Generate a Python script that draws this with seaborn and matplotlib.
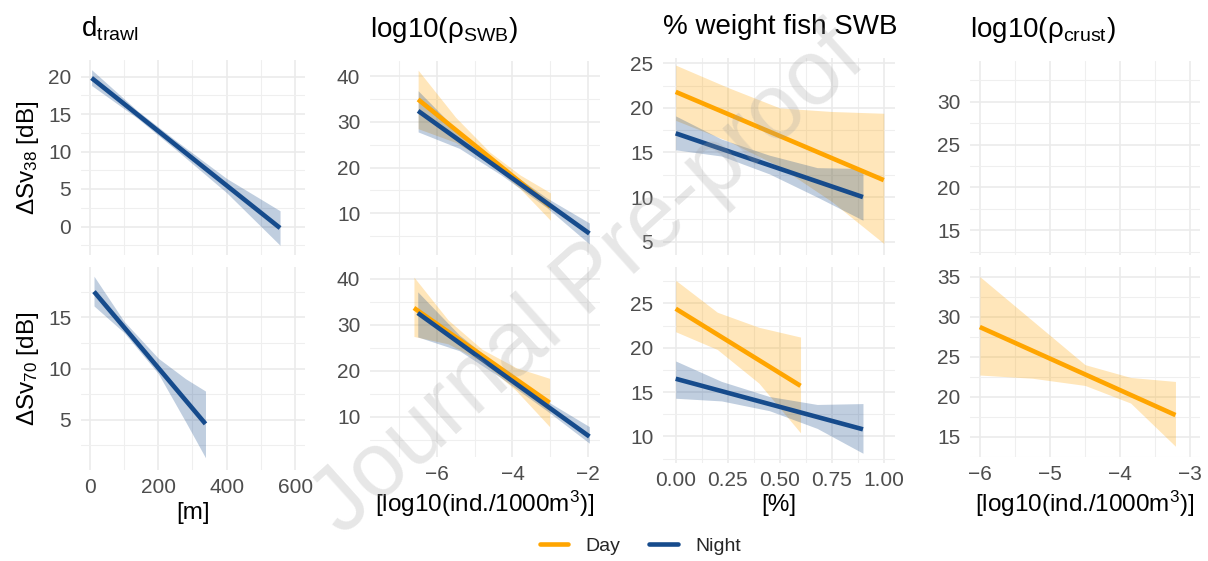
import matplotlib
matplotlib.use("Agg")
import matplotlib.pyplot as plt
from matplotlib.ticker import MultipleLocator, FormatStrFormatter
from matplotlib.lines import Line2D
import seaborn as sns
import pandas as pd

DAY_COLOR = "#FFA500"
NIGHT_COLOR = "#164B8C"

# --- values: fit endpoints + confidence band ---
# d_trawl vs dSv38 (night only)
dtr38_night_x = [5, 140, 250, 400, 556]
dtr38_night_fit = [19.8, -0.2]
dtr38_night_lo = [18.8, 14.4, 10.3, 4.5, -2.5]
dtr38_night_hi = [20.9, 15.4, 11.5, 6.4, 2.1]

# d_trawl vs dSv70 (night only)
dtr70_night_x = [12, 100, 200, 280, 338]
dtr70_night_fit = [17.5, 4.6]
dtr70_night_lo = [16.1, 13.5, 9.5, 4.8, 1.3]
dtr70_night_hi = [19.0, 14.6, 11.0, 9.0, 7.8]

# log10(rho_SWB) vs dSv38
swb38_day_x = [-6.49, -5.5, -4.6, -3.8, -3.0]
swb38_day_fit = [34.9, 11.5]
swb38_day_lo = [28.5, 25.5, 21.0, 15.4, 8.5]
swb38_day_hi = [41.3, 31.0, 23.4, 18.4, 14.5]
swb38_night_x = [-6.49, -5.4, -4.3, -3.1, -1.97]
swb38_night_fit = [32.4, 5.6]
swb38_night_lo = [27.8, 24.2, 18.4, 11.3, 3.3]
swb38_night_hi = [36.8, 27.6, 20.4, 13.4, 7.9]

# log10(rho_SWB) vs dSv70
swb70_day_x = [-6.6, -5.7, -4.8, -3.9, -3.02]
swb70_day_fit = [33.6, 13.0]
swb70_day_lo = [27.4, 25.8, 21.9, 15.6, 7.8]
swb70_day_hi = [40.3, 31.0, 24.6, 20.6, 18.3]
swb70_night_x = [-6.5, -5.4, -4.3, -3.1, -1.97]
swb70_night_fit = [32.5, 5.65]
swb70_night_lo = [27.3, 24.3, 18.4, 11.3, 4.2]
swb70_night_hi = [37.1, 27.7, 20.5, 13.4, 7.8]

# % weight fish SWB vs dSv38
fish38_day_x = [0.0, 0.25, 0.5, 0.75, 1.0]
fish38_day_fit = [21.8, 11.9]
fish38_day_lo = [18.6, 16.3, 13.4, 9.5, 4.8]
fish38_day_hi = [24.8, 22.3, 20.0, 19.6, 19.4]
fish38_night_x = [0.0, 0.22, 0.45, 0.68, 0.9]
fish38_night_fit = [17.15, 10.0]
fish38_night_lo = [15.3, 14.6, 12.6, 10.0, 7.4]
fish38_night_hi = [19.1, 16.5, 14.7, 13.3, 13.2]

# % weight fish SWB vs dSv70
fish70_day_x = [0.0, 0.2, 0.4, 0.6]
fish70_day_fit = [24.4, 15.7]
fish70_day_lo = [21.8, 19.8, 16.0, 10.4]
fish70_day_hi = [27.6, 24.0, 22.3, 21.2]
fish70_night_x = [0.0, 0.22, 0.45, 0.68, 0.9]
fish70_night_fit = [16.5, 10.8]
fish70_night_lo = [14.3, 14.0, 12.9, 10.9, 8.1]
fish70_night_hi = [18.5, 16.2, 14.5, 13.6, 13.7]

# log10(rho_crust) vs dSv70 (day only; 38 kHz panel is empty)
crust70_day_x = [-6.0, -5.25, -4.5, -3.85, -3.21]
crust70_day_fit = [28.7, 17.7]
crust70_day_lo = [22.7, 22.3, 21.4, 19.2, 13.8]
crust70_day_hi = [35.0, 29.5, 24.0, 22.4, 21.9]

COL_TITLES = ["d$_{trawl}$", "log10(ρ$_{SWB}$)", "% weight fish SWB", "log10(ρ$_{crust}$)"]
COL_XLABELS = ["[m]", "[log10(ind./1000m$^{3}$)]", "[%]", "[log10(ind./1000m$^{3}$)]"]
ROW_YLABELS = ["ΔSv$_{38}$ [dB]", "ΔSv$_{70}$ [dB]"]

PANEL_SERIES = {
    (0, 0): [("Night", dtr38_night_x, dtr38_night_fit, dtr38_night_lo, dtr38_night_hi)],
    (1, 0): [("Night", dtr70_night_x, dtr70_night_fit, dtr70_night_lo, dtr70_night_hi)],
    (0, 1): [("Day", swb38_day_x, swb38_day_fit, swb38_day_lo, swb38_day_hi),
             ("Night", swb38_night_x, swb38_night_fit, swb38_night_lo, swb38_night_hi)],
    (1, 1): [("Day", swb70_day_x, swb70_day_fit, swb70_day_lo, swb70_day_hi),
             ("Night", swb70_night_x, swb70_night_fit, swb70_night_lo, swb70_night_hi)],
    (0, 2): [("Day", fish38_day_x, fish38_day_fit, fish38_day_lo, fish38_day_hi),
             ("Night", fish38_night_x, fish38_night_fit, fish38_night_lo, fish38_night_hi)],
    (1, 2): [("Day", fish70_day_x, fish70_day_fit, fish70_day_lo, fish70_day_hi),
             ("Night", fish70_night_x, fish70_night_fit, fish70_night_lo, fish70_night_hi)],
    (0, 3): [],
    (1, 3): [("Day", crust70_day_x, crust70_day_fit, crust70_day_lo, crust70_day_hi)],
}
PALETTE = {"Day": DAY_COLOR, "Night": NIGHT_COLOR}

# --- axes layout ---
COL_XLIM = [(-26, 629), (-7.76, -1.69), (-0.061, 1.054), (-6.14, -2.86)]
COL_XSTEP = [200, 2, 0.25, 1]
PANEL_YLIM = {(0, 0): (-3.8, 22.2), (1, 0): (0.1, 19.9),
              (0, 1): (0.9, 43.3), (1, 1): (1.2, 42.5),
              (0, 2): (3.5, 25.6), (1, 2): (7.0, 29.1),
              (0, 3): (12.1, 34.75), (1, 3): (12.46, 36.2)}
COL_YSTEP = [5, 10, 5, 5]

W, H = 1208, 561
COL_PX = [(81, 305), (370, 600), (663, 895), (970, 1200)]
# (top row top, top row bottom, bottom row top, bottom row bottom) per column
COL_ROWS_PX = [(60, 255, 267, 470), (61, 255, 267, 457),
               (58, 255, 267, 463), (61, 255, 267, 457)]

sns.set_theme(style="white")
plt.rcParams["font.family"] = ["Liberation Sans", "DejaVu Sans"]
plt.rcParams["mathtext.default"] = "regular"

fig = plt.figure(figsize=(W / 100, H / 100), dpi=100)

for (r, c), series in PANEL_SERIES.items():
    x0, x1 = COL_PX[c]
    y0, y1 = COL_ROWS_PX[c][2 * r], COL_ROWS_PX[c][2 * r + 1]
    ax = fig.add_axes([x0 / W, 1 - y1 / H, (x1 - x0) / W, (y1 - y0) / H])

    for period, bx, fit, lo, hi in series:
        col = PALETTE[period]
        ax.fill_between(bx, lo, hi, color=col, alpha=0.27, linewidth=0, zorder=2)
        line = pd.DataFrame({"x": [bx[0], bx[-1]], "y": fit})
        sns.lineplot(data=line, x="x", y="y", color=col, linewidth=3.3,
                     ax=ax, zorder=3, solid_capstyle="butt")

    ax.set_xlim(*COL_XLIM[c])
    ax.set_ylim(*PANEL_YLIM[(r, c)])
    ax.xaxis.set_major_locator(MultipleLocator(COL_XSTEP[c]))
    ax.xaxis.set_minor_locator(MultipleLocator(COL_XSTEP[c] / 2))
    ax.yaxis.set_major_locator(MultipleLocator(COL_YSTEP[c]))
    ax.yaxis.set_minor_locator(MultipleLocator(COL_YSTEP[c] / 2))
    if c == 2:
        ax.xaxis.set_major_formatter(FormatStrFormatter("%.2f"))

    ax.grid(which="major", color="#EBEBEB", linewidth=1.2, zorder=0)
    ax.grid(which="minor", color="#EFEFEF", linewidth=0.8, zorder=0)
    ax.set_axisbelow(True)
    for s in ax.spines.values():
        s.set_visible(False)
    ax.tick_params(which="both", length=0, labelsize=15, colors="#4D4D4D")
    ax.tick_params(axis="y", pad=7)
    ax.tick_params(axis="x", pad=6)

    ax.set_xlabel("")
    ax.set_ylabel("")
    if r == 0:
        ax.tick_params(labelbottom=False)
        ax.set_title(COL_TITLES[c], loc="left", fontsize=20, pad=17, color="black")
    else:
        ax.set_xlabel(COL_XLABELS[c], fontsize=17.5, color="black", labelpad=3)
    if c == 0:
        ax.set_ylabel(ROW_YLABELS[r], fontsize=17.5, color="black", labelpad=5)

handles = [Line2D([], [], color=DAY_COLOR, linewidth=3.3),
           Line2D([], [], color=NIGHT_COLOR, linewidth=3.3)]
fig.legend(handles, ["Day", "Night"], loc="center", bbox_to_anchor=(0.53, 0.026),
           ncol=2, frameon=False, fontsize=14, handlelength=1.45,
           handletextpad=0.9, columnspacing=1.5)

# journal watermark
fig.text(0.488, 0.497, "Journal Pre-proof", rotation=42, fontsize=66,
         color="#A0A0A0", alpha=0.25, ha="center", va="center", zorder=50)

fig.savefig("out.png", dpi=100)
